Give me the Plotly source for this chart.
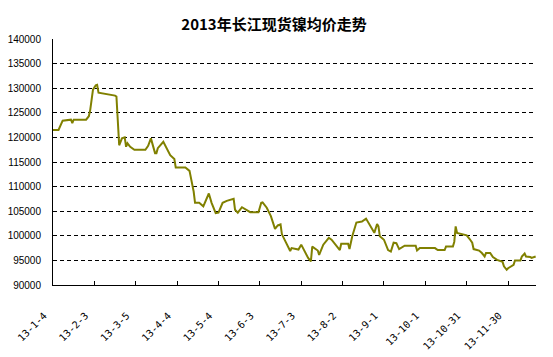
import plotly.graph_objects as go

dates = [
    "2013-01-04", "2013-01-08", "2013-01-11", "2013-01-17", "2013-01-18", "2013-01-19",
    "2013-01-28", "2013-01-30", "2013-01-31", "2013-02-02", "2013-02-04", "2013-02-05",
    "2013-02-06", "2013-02-11", "2013-02-18", "2013-02-19", "2013-02-21", "2013-02-23",
    "2013-02-25", "2013-02-26", "2013-02-27", "2013-03-01", "2013-03-04", "2013-03-12",
    "2013-03-14", "2013-03-16", "2013-03-19", "2013-03-20", "2013-03-21", "2013-03-25",
    "2013-03-27", "2013-03-30", "2013-04-02", "2013-04-03", "2013-04-10", "2013-04-13",
    "2013-04-15", "2013-04-16", "2013-04-17", "2013-04-20", "2013-04-23", "2013-04-27",
    "2013-04-29", "2013-05-02", "2013-05-04", "2013-05-07", "2013-05-10", "2013-05-15",
    "2013-05-16", "2013-05-18", "2013-05-21", "2013-05-27", "2013-06-02", "2013-06-04",
    "2013-06-05", "2013-06-08", "2013-06-11", "2013-06-14", "2013-06-16", "2013-06-18",
    "2013-06-19", "2013-06-22", "2013-06-25", "2013-06-26", "2013-07-01", "2013-07-03",
    "2013-07-05", "2013-07-08", "2013-07-10", "2013-07-11", "2013-07-15", "2013-07-16",
    "2013-07-19", "2013-07-23", "2013-07-25", "2013-07-28", "2013-07-31", "2013-08-01",
    "2013-08-06", "2013-08-07", "2013-08-09", "2013-08-12", "2013-08-16", "2013-08-19",
    "2013-08-22", "2013-08-25", "2013-08-27", "2013-08-28", "2013-08-29", "2013-09-01",
    "2013-09-04", "2013-09-06", "2013-09-08", "2013-09-10", "2013-09-12", "2013-09-16",
    "2013-09-24", "2013-09-25", "2013-09-27", "2013-10-08", "2013-10-10", "2013-10-15",
    "2013-10-16", "2013-10-21", "2013-10-22", "2013-10-23", "2013-10-24", "2013-10-28",
    "2013-10-31", "2013-11-02", "2013-11-04", "2013-11-05", "2013-11-09", "2013-11-11",
    "2013-11-13", "2013-11-14", "2013-11-17", "2013-11-19", "2013-11-22", "2013-11-26",
    "2013-11-27", "2013-11-29", "2013-11-30", "2013-12-04", "2013-12-05", "2013-12-09",
    "2013-12-10", "2013-12-12", "2013-12-13", "2013-12-16", "2013-12-17", "2013-12-20",
]

prices = [
    121500, 121500, 123400, 123600, 122900, 123600,
    123600, 124300, 125600, 129700, 130600, 130700,
    129100, 128900, 128500, 128300, 118400, 119800,
    120000, 118100, 118800, 118100, 117500, 117500,
    118300, 119800, 116800, 116800, 117800, 119100,
    117900, 116400, 115600, 113900, 113900, 113200,
    110400, 109000, 106700, 106700, 106000, 108600,
    106700, 104600, 104700, 106700, 107100, 107500,
    105300, 104700, 105800, 104800, 104800, 106700,
    106800, 105700, 104000, 101400, 102100, 102300,
    100300, 98600, 96900, 97500, 97200, 98200,
    97000, 95500, 94800, 97800, 97000, 96100,
    98200, 99600, 99200, 98200, 97100, 98400,
    98400, 97300, 99900, 102700, 102900, 103500,
    101900, 100600, 102400, 101900, 99900, 99200,
    97100, 96800, 98600, 98500, 97300, 98000,
    98000, 97000, 97500, 97500, 97100, 97100,
    97800, 97800, 98800, 101900, 100600, 100300,
    100100, 99400, 98600, 97300, 97000, 96500,
    95800, 96500, 96500, 95700, 95100, 94700,
    93800, 93100, 93400, 94100, 95000, 95000,
    95800, 96400, 95800, 95700, 95500, 95800,
]

tick_dates = [
    "2013-01-04", "2013-02-03", "2013-03-05", "2013-04-04", "2013-05-04", "2013-06-03",
    "2013-07-03", "2013-08-02", "2013-09-01", "2013-10-01", "2013-10-31", "2013-11-30",
]
tick_labels = [
    "13-1-4", "13-2-3", "13-3-5", "13-4-4", "13-5-4", "13-6-3",
    "13-7-3", "13-8-2", "13-9-1", "13-10-1", "13-10-31", "13-11-30",
]

title_text = "2013年长江现货镍均价走势"

# The page body has an 8px default margin; size the figure so the plot lands
# where it does in the 553x357 reference.
fig = go.Figure()
fig.add_trace(go.Scatter(
    x=dates, y=prices, mode="lines",
    line=dict(color="#808000", width=2),
    showlegend=False, hoverinfo="skip",
))

fig.update_layout(
    width=545, height=349,
    margin=dict(l=45, r=17, t=31, b=72),
    paper_bgcolor="white", plot_bgcolor="white",
    title=dict(
        text="<b>" + title_text + "</b>",
        x=266 / 545, xref="container", xanchor="center",
        y=1 - 17 / 349, yref="container", yanchor="middle",
        font=dict(family="Noto Sans CJK SC", size=15, color="black"),
    ),
    showlegend=False,
)

fig.update_xaxes(
    type="date",
    range=["2013-01-04", "2013-12-20 06:00"],
    tickmode="array", tickvals=tick_dates, ticktext=tick_labels,
    tickangle=-45,
    ticks="inside", ticklen=4, tickcolor="black", tickwidth=1,
    showline=True, linecolor="black", linewidth=1,
    showgrid=False, zeroline=False,
    tickfont=dict(family="DejaVu Sans Mono", size=10, color="black"),
    ticklabelstandoff=20, ticklabelshift=-9,
    automargin=False,
)
fig.update_yaxes(
    range=[90000, 140000], dtick=5000, tick0=90000,
    tickformat="d",
    showline=True, linecolor="black", linewidth=1,
    showgrid=True, gridcolor="black", gridwidth=1, griddash="4px,3px",
    zeroline=False, ticks="",
    tickfont=dict(family="Liberation Sans", size=10, color="black"),
    ticklabelstandoff=9,
    automargin=False,
)

fig.write_html("out.html")
